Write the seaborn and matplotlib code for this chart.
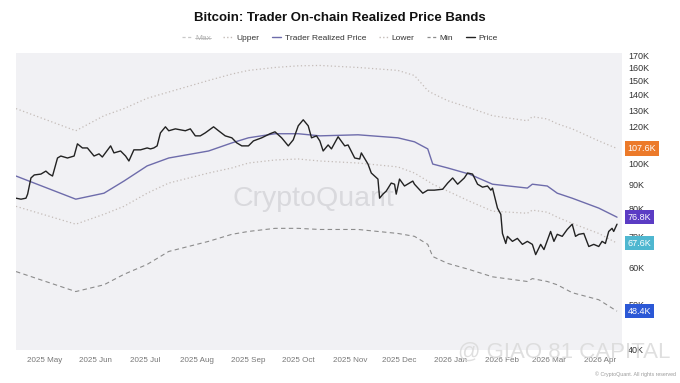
import matplotlib
matplotlib.use("Agg")
import matplotlib.pyplot as plt
import matplotlib.dates as mdates
from matplotlib.lines import Line2D
import pandas as pd
import seaborn as sns

# ---------------- data (values in thousands of USD) ----------------
price_dates = ["2025-04-14","2025-04-17","2025-04-20","2025-04-21","2025-04-23","2025-04-25","2025-04-29","2025-05-02","2025-05-04","2025-05-06",
               "2025-05-09","2025-05-11","2025-05-15","2025-05-19","2025-05-21","2025-05-24","2025-05-27","2025-05-31","2025-06-03","2025-06-05",
               "2025-06-10","2025-06-12","2025-06-16","2025-06-19","2025-06-21","2025-06-24","2025-06-28","2025-07-02","2025-07-04","2025-07-06",
               "2025-07-08","2025-07-10","2025-07-13","2025-07-15","2025-07-19","2025-07-25","2025-07-28","2025-07-31","2025-08-03","2025-08-06",
               "2025-08-11","2025-08-14","2025-08-18","2025-08-22","2025-08-25","2025-08-28","2025-09-01","2025-09-04","2025-09-09","2025-09-14",
               "2025-09-17","2025-09-21","2025-09-25","2025-09-28","2025-10-01","2025-10-04","2025-10-07","2025-10-09","2025-10-12","2025-10-14",
               "2025-10-16","2025-10-19","2025-10-21","2025-10-25","2025-10-29","2025-10-31","2025-11-04","2025-11-07","2025-11-08","2025-11-12",
               "2025-11-14","2025-11-18","2025-11-19","2025-11-21","2025-11-23","2025-11-26","2025-11-28","2025-11-29","2025-12-01","2025-12-04",
               "2025-12-09","2025-12-10","2025-12-15","2025-12-18","2025-12-22","2025-12-27","2025-12-30","2026-01-02","2026-01-05","2026-01-09",
               "2026-01-11","2026-01-14","2026-01-17","2026-01-20","2026-01-23","2026-01-25","2026-01-26","2026-01-29","2026-01-31","2026-02-01",
               "2026-02-03","2026-02-04","2026-02-07","2026-02-10","2026-02-13","2026-02-16","2026-02-19","2026-02-21","2026-02-24","2026-02-26",
               "2026-03-02","2026-03-04","2026-03-06","2026-03-09","2026-03-12","2026-03-15","2026-03-17","2026-03-19","2026-03-22","2026-03-25",
               "2026-03-28","2026-03-31","2026-04-02","2026-04-04","2026-04-06","2026-04-08","2026-04-09","2026-04-11"]
price = [84.3, 83.9, 84.3, 86.0, 93.1, 94.5, 94.9, 96.3, 94.9, 94.0,
         102.7, 103.7, 102.7, 103.7, 110.1, 107.9, 107.9, 103.7, 104.8, 103.2,
         109.0, 105.3, 106.3, 103.7, 101.2, 106.9, 106.9, 107.9, 107.4, 107.9,
         109.0, 116.2, 119.7, 117.4, 118.5, 117.4, 118.5, 114.5, 114.5, 116.2,
         119.7, 117.4, 114.5, 113.4, 110.6, 109.0, 109.0, 111.7, 113.4, 115.7,
         116.8, 113.4, 109.0, 112.3, 120.3, 123.9, 120.3, 113.4, 114.5, 111.7,
         106.3, 109.5, 107.4, 114.0, 109.0, 109.5, 102.7, 102.2, 105.3, 99.7,
         95.4, 92.6, 84.3, 86.0, 87.3, 90.8, 90.3, 86.0, 92.6, 89.5,
         91.7, 90.3, 86.4, 87.7, 87.7, 88.1, 90.8, 93.1, 90.3, 93.1,
         95.4, 94.9, 90.3, 89.0, 89.5, 87.7, 88.6, 80.3, 77.9, 70.9,
         67.5, 69.9, 68.2, 69.2, 67.2, 68.2, 67.2, 63.9, 67.2, 65.5,
         71.6, 68.2, 70.6, 69.9, 72.3, 74.2, 69.9, 70.6, 70.9, 66.5,
         67.2, 66.5, 68.2, 67.5, 71.6, 72.7, 71.6, 74.2]

band_dates = ["2025-04-14","2025-05-20","2025-06-06","2025-06-18","2025-07-02","2025-07-15","2025-08-08","2025-08-22","2025-09-01",
              "2025-09-17","2025-10-01","2025-10-14","2025-11-06","2025-11-30","2025-12-10","2025-12-18","2025-12-21","2025-12-30",
              "2026-01-12","2026-01-26","2026-02-16","2026-02-19","2026-02-28","2026-03-06","2026-03-15","2026-03-31","2026-04-11"]
trader_realized = [94.0, 83.9, 86.4, 91.7, 98.8, 102.7, 106.3, 110.6, 113.4,
                   115.7, 115.7, 114.5, 115.1, 113.4, 111.2, 107.4, 99.7, 97.8,
                   94.9, 90.3, 88.6, 90.3, 89.5, 86.4, 84.3, 80.3, 76.8]
upper = [130.9, 117.4, 126.4, 130.9, 137.7, 142.0, 150.3, 155.1, 157.9,
         160.2, 161.5, 161.8, 160.2, 157.9, 154.0, 143.0, 141.0, 136.1,
         131.5, 126.4, 123.3, 125.8, 124.4, 121.5, 118.5, 111.7, 107.6]
lower = [81.0, 74.2, 77.9, 81.0, 86.4, 90.8, 95.4, 97.8, 100.2,
         101.7, 102.2, 101.2, 100.2, 98.3, 95.4, 91.7, 90.3, 87.3,
         83.1, 79.1, 78.3, 79.5, 78.7, 76.8, 74.5, 70.9, 67.6]
minimum = [58.8, 53.3, 55.1, 58.0, 60.9, 64.9, 68.2, 70.6, 71.6,
           72.7, 72.7, 72.3, 72.3, 70.9, 69.9, 67.2, 63.3, 61.2,
           59.4, 57.3, 56.0, 56.8, 56.0, 55.1, 53.0, 51.2, 48.4]

y_ticks = [40, 50, 60, 70, 80, 90, 100, 110, 120, 130, 140, 150, 160, 170]
legend_labels = ["Max", "Upper", "Trader Realized Price", "Lower", "Min", "Price"]

# ---------------- styling ----------------
sns.set_theme(style="white")
plt.rcParams["font.family"] = ["Liberation Sans", "DejaVu Sans"]

W, H = 680, 383
fig = plt.figure(figsize=(W / 100, H / 100), dpi=100)
fig.patch.set_facecolor("white")
ax = fig.add_axes([16 / W, 1 - 350 / H, (622 - 16) / W, (350 - 53) / H])
ax.set_facecolor("#f1f1f4")

pdf = pd.DataFrame({"date": pd.to_datetime(price_dates), "value": price})
bdf = pd.DataFrame({"date": pd.to_datetime(band_dates), "trp": trader_realized,
                    "upper": upper, "lower": lower, "min": minimum})

C_DOT = "#c4bcb8"
C_MIN = "#8c8c8c"
C_TRP = "#6e6cab"
C_PRICE = "#222222"

sns.lineplot(data=bdf, x="date", y="upper", ax=ax, color=C_DOT, lw=0.9,
             linestyle=(0, (1, 2)), estimator=None)
sns.lineplot(data=bdf, x="date", y="lower", ax=ax, color=C_DOT, lw=0.9,
             linestyle=(0, (1, 2)), estimator=None)
sns.lineplot(data=bdf, x="date", y="min", ax=ax, color=C_MIN, lw=0.8,
             linestyle=(0, (4, 3)), estimator=None)
sns.lineplot(data=bdf, x="date", y="trp", ax=ax, color=C_TRP, lw=1.0, estimator=None)
sns.lineplot(data=pdf, x="date", y="value", ax=ax, color=C_PRICE, lw=1.0, estimator=None)

ax.set_yscale("log")
ax.set_ylim(40, 172)
ax.set_xlim(pd.Timestamp("2025-04-14"), pd.Timestamp("2026-04-14"))
ax.yaxis.tick_right()
ax.yaxis.set_label_position("right")
ax.set_yticks(y_ticks)
ax.set_yticklabels([f"{v}K" for v in y_ticks])
ax.yaxis.set_minor_locator(matplotlib.ticker.NullLocator())
ax.tick_params(axis="y", length=0, pad=4.5, labelsize=6.5, labelcolor="#333333")
ax.xaxis.set_major_locator(mdates.MonthLocator())
ax.xaxis.set_major_formatter(mdates.DateFormatter("%Y %b"))
ax.tick_params(axis="x", length=0, pad=5, labelsize=5.8, labelcolor="#777777")
ax.set_xlabel("")
ax.set_ylabel("")
for s in ax.spines.values():
    s.set_visible(False)
ax.grid(False)

# value badges on the right axis (last values of the series)
badges = [(upper[-1], "#ec7a2a"), (trader_realized[-1], "#5b3cc4"),
          (lower[-1], "#4fb7d0"), (minimum[-1], "#2b58d6")]
for val, col in badges:
    ax.annotate(f"{val:.1f}K", xy=(1.0, val), xycoords=("axes fraction", "data"),
                xytext=(4, 0), textcoords="offset points", ha="left", va="center",
                fontsize=6.5, color="white", zorder=10, annotation_clip=False,
                bbox=dict(boxstyle="square,pad=0.28", fc=col, ec="none"))

# watermark
ax.text(0.49, 0.51, "CryptoQuant", transform=ax.transAxes, ha="center", va="center",
        fontsize=20.5, color="#d9d9dd", zorder=0)

# title
fig.text(0.5, 1 - 18 / H, "Bitcoin: Trader On-chain Realized Price Bands",
         ha="center", va="center", fontsize=9.5, fontweight="bold", color="#111111")

# legend
handles = [
    Line2D([], [], color="#c8c8c8", lw=0.9, linestyle=(0, (2.5, 2))),
    Line2D([], [], color=C_DOT, lw=1.0, linestyle=(0, (1, 1.6))),
    Line2D([], [], color=C_TRP, lw=1.0),
    Line2D([], [], color=C_DOT, lw=1.0, linestyle=(0, (1, 1.6))),
    Line2D([], [], color=C_MIN, lw=0.9, linestyle=(0, (2.5, 2))),
    Line2D([], [], color=C_PRICE, lw=1.0),
]
leg = fig.legend(handles, legend_labels, loc="center", bbox_to_anchor=(0.5, 1 - 38 / H),
                 ncol=6, frameon=False, fontsize=6.0, handlelength=1.1,
                 handletextpad=0.45, columnspacing=1.5)
for t in leg.get_texts():
    t.set_color("#333333")
leg.get_texts()[0].set_color("#b5b5b5")

# footer texts
fig.text(676 / W, 1 - 374 / H, "\u00a9 CryptoQuant. All rights reserved", ha="right",
         va="center", fontsize=3.8, color="#9a9a9a")
fig.text(458 / W, 1 - 352 / H, "@ GIAO 81 CAPITAL", ha="left", va="center",
         fontsize=16, color="#dadada", alpha=0.85, zorder=20)

# strike through the hidden "Max" legend entry
fig.canvas.draw()
r = fig.canvas.get_renderer()
bb = leg.get_texts()[0].get_window_extent(r)
ymid = (bb.y0 + bb.y1) / 2
fig.add_artist(Line2D([bb.x0 / W, bb.x1 / W], [ymid / H, ymid / H],
                      transform=fig.transFigure, color="#b5b5b5", lw=0.6))

fig.savefig("out.png", dpi=100)
